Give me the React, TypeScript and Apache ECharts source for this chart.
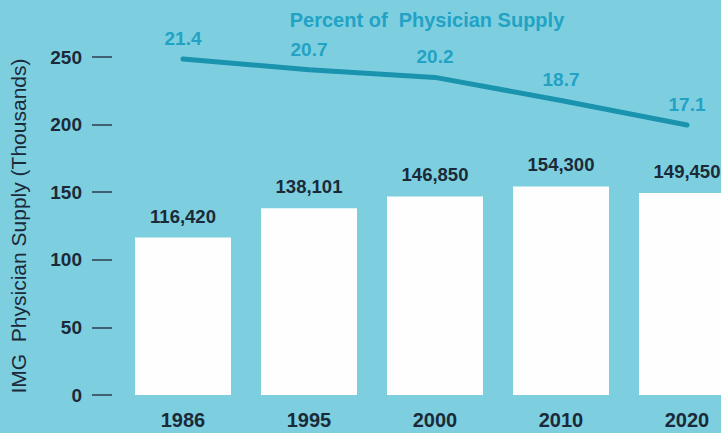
import React, { useEffect, useRef } from "react";
import * as echarts from "echarts";

const years = ["1986", "1995", "2000", "2010", "2020"];
const imgSupply = [116420, 138101, 146850, 154300, 149450];
const percentOfSupply = [21.4, 20.7, 20.2, 18.7, 17.1];
const yTicks = [0, 50, 100, 150, 200, 250];

const FONT = "'Liberation Sans', Arial, Helvetica, sans-serif";
const BG = "#7dcfe0";
const DARK = "#1b2a38";
const TEAL = "#1a93ae";
const TEAL_TEXT = "#22a2c4";

export default function App() {
  const ref = useRef<HTMLDivElement>(null);
  useEffect(() => {
    if (!ref.current) return;
    const chart = echarts.init(ref.current, undefined, { renderer: "svg" });
    chart.setOption({
      animation: false,
      backgroundColor: BG,
      textStyle: { fontFamily: FONT },
      graphic: [
        {
          type: "text",
          x: 427,
          y: 20,
          style: {
            text: "Percent of  Physician Supply",
            fill: TEAL_TEXT,
            font: `bold 20px ${FONT}`,
            textAlign: "center",
            textVerticalAlign: "middle",
          },
        },
      ],
      grid: {
        left: 120,
        top: 57,
        width: 630,
        height: 338,
        containLabel: false,
        outerBoundsMode: "none",
      },
      xAxis: {
        type: "category",
        data: years,
        axisLine: { show: false },
        axisTick: { show: false },
        axisLabel: {
          color: DARK,
          fontSize: 20,
          fontWeight: "bold",
          fontFamily: FONT,
          margin: 15,
        },
      },
      yAxis: [
        {
          type: "value",
          min: yTicks[0],
          max: yTicks[yTicks.length - 1],
          interval: 50,
          offset: 8,
          name: "IMG  Physician Supply (Thousands)",
          nameLocation: "middle",
          nameGap: 83,
          nameTextStyle: { color: DARK, fontSize: 21, fontFamily: FONT },
          splitLine: { show: false },
          axisLine: { show: false },
          axisTick: {
            show: true,
            length: 20,
            lineStyle: { color: "#2c3c4c", width: 1.5 },
          },
          axisLabel: {
            color: DARK,
            fontSize: 19,
            fontWeight: "bold",
            fontFamily: FONT,
            margin: 30,
          },
        },
        {
          type: "value",
          min: -0.49,
          max: 21.53,
          show: false,
          splitLine: { show: false },
        },
      ],
      series: [
        {
          type: "bar",
          yAxisIndex: 0,
          data: imgSupply.map((v) => v / 1000),
          barWidth: 96,
          itemStyle: { color: "#fefefe" },
          label: {
            show: true,
            position: "top",
            distance: 12,
            color: DARK,
            fontSize: 18.5,
            fontWeight: "bold",
            fontFamily: FONT,
            formatter: (p: any) => imgSupply[p.dataIndex].toLocaleString("en-US"),
          },
        },
        {
          type: "line",
          yAxisIndex: 1,
          data: percentOfSupply,
          symbol: "circle",
          symbolSize: 2,
          showSymbol: true,
          itemStyle: { color: TEAL },
          lineStyle: { color: TEAL, width: 5, cap: "round" },
          label: {
            show: true,
            position: "top",
            distance: 10,
            color: TEAL_TEXT,
            fontSize: 19,
            fontWeight: "bold",
            fontFamily: FONT,
            formatter: (p: any) => percentOfSupply[p.dataIndex].toFixed(1),
          },
        },
      ],
    });
    return () => chart.dispose();
  }, []);
  return (
    <div
      ref={ref}
      style={{ position: "fixed", left: 0, top: 0, width: 721, height: 433, background: BG }}
    />
  );
}
